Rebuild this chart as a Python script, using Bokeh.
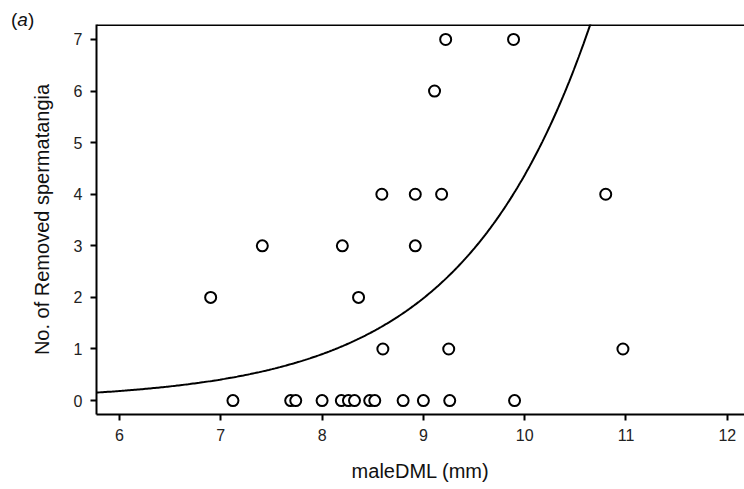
from bokeh.plotting import figure
from bokeh.models import Range1d, FixedTicker, Span, Div
from bokeh.layouts import column
from bokeh.embed import file_html
from bokeh.resources import INLINE
import numpy as np

male_dml = [9.22, 9.89, 9.11, 8.59, 8.92, 9.18, 10.80, 7.41, 8.20, 8.92, 6.90, 8.36,
            8.60, 9.25, 10.97, 7.12, 7.69, 7.74, 8.00, 8.19, 8.26, 8.32, 8.47, 8.52,
            8.80, 9.00, 9.26, 9.90]
removed = [7, 7, 6, 4, 4, 4, 4, 3, 3, 3, 2, 2,
           1, 1, 1, 0, 0, 0, 0, 0, 0, 0, 0, 0,
           0, 0, 0, 0]
# fitted model: y = exp(a + b*x)
fit_a = -6.425
fit_b = 0.79

x_ticks = [6, 7, 8, 9, 10, 11, 12]
y_ticks = [0, 1, 2, 3, 4, 5, 6, 7]

FONT = "Liberation Sans"

p = figure(width=744, height=467, output_backend="svg", toolbar_location=None,
           x_range=Range1d(5.773, 12.17), y_range=Range1d(-0.27, 7.29),
           min_border_left=96, min_border_right=0, min_border_top=2, min_border_bottom=75)
p.xgrid.visible = False
p.ygrid.visible = False
p.outline_line_color = None
p.background_fill_color = None
p.border_fill_color = None

xs = np.linspace(5.773, 12.0, 400)
ys = np.exp(fit_a + fit_b * xs)
p.line(xs, ys, line_color="black", line_width=2)

p.scatter(male_dml, removed, size=11, fill_color="white", line_color="black", line_width=2)

for ax in (p.xaxis[0], p.yaxis[0]):
    ax.axis_line_width = 2
    ax.major_tick_line_width = 2
    ax.major_tick_out = 6
    ax.major_tick_in = 0
    ax.minor_tick_line_color = None
    ax.major_label_text_font = FONT
    ax.major_label_text_font_size = "16px"
    ax.major_label_text_color = "#222222"
    ax.axis_label_text_font = FONT
    ax.axis_label_text_font_style = "normal"
    ax.axis_label_text_font_size = "20px"
    ax.axis_label_text_color = "#111111"

p.xaxis.ticker = FixedTicker(ticks=x_ticks)
p.yaxis.ticker = FixedTicker(ticks=y_ticks)
p.xaxis.axis_label = "maleDML (mm)"
p.yaxis.axis_label = "No. of Removed spermatangia"
p.xaxis.major_label_standoff = 8
p.yaxis.major_label_standoff = 8
p.xaxis.axis_label_standoff = 16
p.yaxis.axis_label_standoff = 18

# top border line
p.add_layout(Span(location=7.29, dimension="width", line_color="black", line_width=3))

panel_label = Div(
    text=('<div style="font-family:\'Liberation Sans\';font-size:19px;color:#111111;'
          'line-height:19px;padding:10px 0 0 11px;white-space:nowrap;">(<i>a</i>)</div>'),
    width=744, height=22, margin=(0, 0, 0, 0),
    styles={"overflow": "visible"})

layout = column(panel_label, p, spacing=0)

open("out.html", "w").write(file_html(layout, INLINE))
